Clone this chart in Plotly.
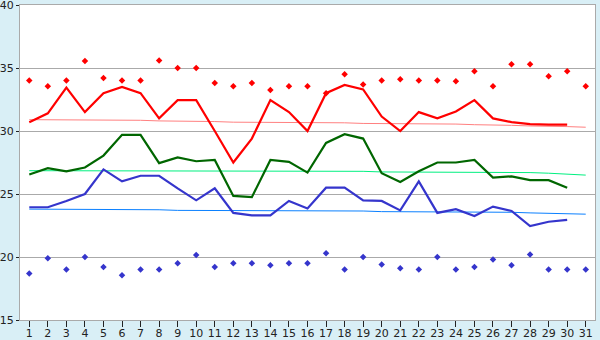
import plotly.graph_objects as go

days = list(range(1, 32))
days30 = list(range(1, 31))

record_max = [34.0, 33.55, 34.0, 35.55, 34.2, 34.0, 34.0, 35.6, 35.0, 35.0,
              33.8, 33.55, 33.8, 33.25, 33.55, 33.55, 33.0, 34.5, 33.7, 34.0,
              34.1, 34.0, 34.0, 33.95, 34.75, 33.55, 35.3, 35.3, 34.35, 34.75, 33.55]
record_min = [18.7, 19.9, 19.0, 20.0, 19.2, 18.55, 19.0, 19.0, 19.5, 20.15,
              19.2, 19.5, 19.5, 19.35, 19.5, 19.5, 20.3, 19.0, 20.0, 19.4,
              19.1, 19.0, 20.0, 19.0, 19.2, 19.8, 19.35, 20.2, 19.0, 19.0, 19.0]

obs_max = [30.7, 31.4, 33.45, 31.5, 33.0, 33.5, 33.0, 31.0, 32.45, 32.45,
           30.0, 27.5, 29.4, 32.45, 31.5, 30.0, 33.0, 33.65, 33.3, 31.15,
           30.0, 31.5, 31.0, 31.55, 32.45, 31.0, 30.7, 30.55, 30.5, 30.5]
obs_mean = [26.55, 27.05, 26.8, 27.1, 28.05, 29.7, 29.7, 27.45, 27.9, 27.6,
            27.7, 24.85, 24.75, 27.7, 27.55, 26.7, 29.05, 29.75, 29.4, 26.65,
            25.95, 26.8, 27.5, 27.5, 27.7, 26.3, 26.4, 26.1, 26.1, 25.5]
obs_min = [23.95, 23.95, 24.45, 25.0, 26.95, 26.0, 26.45, 26.45, 25.45, 24.5,
           25.45, 23.5, 23.3, 23.3, 24.45, 23.85, 25.5, 25.5, 24.5, 24.45,
           23.7, 26.0, 23.5, 23.8, 23.25, 24.0, 23.65, 22.45, 22.8, 22.95]

normal_max = [30.9, 30.9, 30.9, 30.85, 30.85, 30.85, 30.85, 30.8, 30.8, 30.75,
              30.75, 30.7, 30.7, 30.7, 30.7, 30.65, 30.65, 30.65, 30.6, 30.6,
              30.6, 30.55, 30.55, 30.55, 30.5, 30.5, 30.45, 30.4, 30.4, 30.35, 30.3]
normal_mean = [26.85, 26.85, 26.85, 26.85, 26.85, 26.85, 26.85, 26.85, 26.85, 26.85,
               26.8, 26.8, 26.8, 26.8, 26.8, 26.8, 26.8, 26.8, 26.8, 26.75,
               26.75, 26.75, 26.75, 26.75, 26.7, 26.7, 26.7, 26.7, 26.65, 26.55, 26.5]
normal_min = [23.8, 23.8, 23.8, 23.75, 23.75, 23.75, 23.75, 23.75, 23.7, 23.7,
              23.7, 23.7, 23.7, 23.7, 23.65, 23.65, 23.65, 23.65, 23.65, 23.6,
              23.6, 23.6, 23.55, 23.55, 23.55, 23.55, 23.55, 23.5, 23.45, 23.4, 23.4]

y_ticks = [15, 20, 25, 30, 35, 40]

fig = go.Figure()

fig.add_trace(go.Scatter(x=days, y=normal_max, mode="lines",
                         line=dict(color="#ff8080", width=1)))
fig.add_trace(go.Scatter(x=days, y=normal_mean, mode="lines",
                         line=dict(color="#00f080", width=1)))
fig.add_trace(go.Scatter(x=days, y=normal_min, mode="lines",
                         line=dict(color="#0a80ff", width=1)))

fig.add_trace(go.Scatter(x=days30, y=obs_max, mode="lines",
                         line=dict(color="#ff0000", width=2.2)))
fig.add_trace(go.Scatter(x=days30, y=obs_mean, mode="lines",
                         line=dict(color="#006600", width=2.2)))
fig.add_trace(go.Scatter(x=days30, y=obs_min, mode="lines",
                         line=dict(color="#3535cc", width=2.2)))

fig.add_trace(go.Scatter(x=days, y=record_max, mode="markers",
                         marker=dict(symbol="diamond", size=5, color="#ff0000")))
fig.add_trace(go.Scatter(x=days, y=record_min, mode="markers",
                         marker=dict(symbol="diamond", size=5, color="#3535cc")))

fig.update_layout(
    width=600, height=340,
    margin=dict(l=20, r=5, t=5, b=20),
    paper_bgcolor="#d9eff6",
    plot_bgcolor="#ffffff",
    showlegend=False,
    font=dict(family="DejaVu Sans", size=11, color="#222222"),
)
fig.update_xaxes(
    range=[0.5, 31.5], tickmode="array", tickvals=days,
    ticktext=[str(d) for d in days],
    ticks="outside", ticklen=6, tickcolor="#222222",
    ticklabelstandoff=-3, ticklabeloverflow="allow",
    showgrid=False, zeroline=False, automargin=False,
    showline=True, linecolor="#aaaaaa", mirror=True,
)
fig.update_yaxes(
    range=[15, 40], tickmode="array", tickvals=y_ticks,
    ticks="outside", ticklen=3, tickcolor="#222222",
    ticklabeloverflow="allow",
    showgrid=True, gridcolor="#aaaaaa", gridwidth=1, zeroline=False,
    automargin=False,
    showline=True, linecolor="#aaaaaa", mirror=True,
)

fig.write_html("out.html")
